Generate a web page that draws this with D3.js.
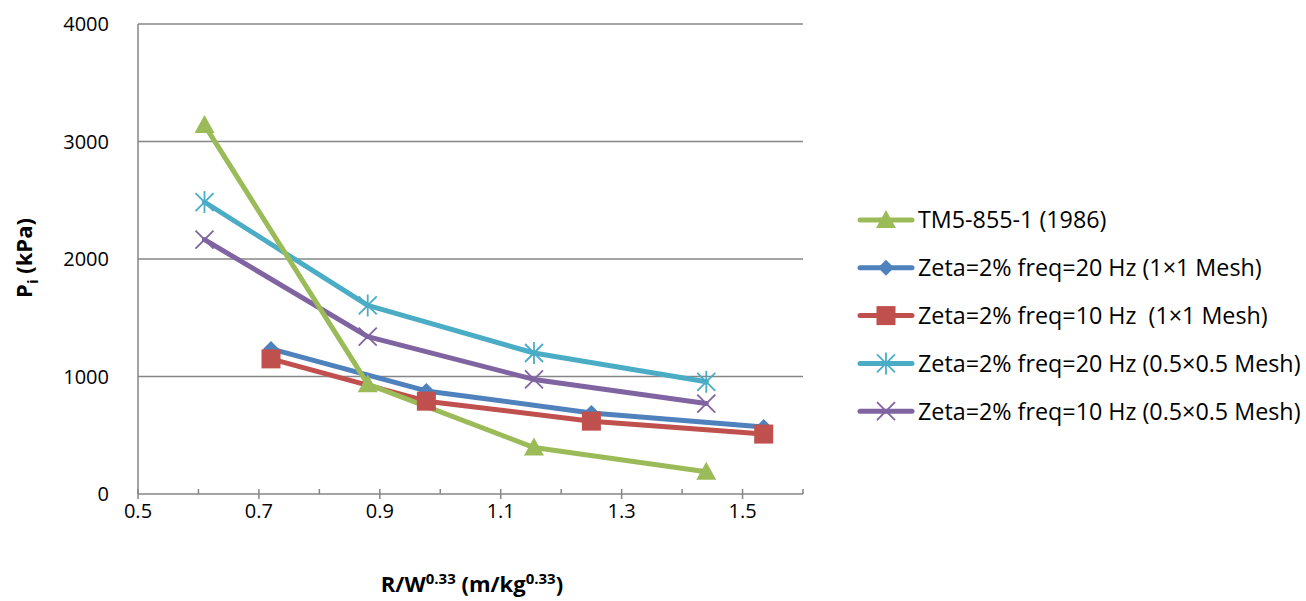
<!DOCTYPE html>
<html><head><meta charset="utf-8">
<script src="https://cdn.jsdelivr.net/npm/d3@7/dist/d3.min.js"></script>
<style>body{margin:0;background:#fff;} text{font-family:"Open Sans","Liberation Sans",sans-serif;}</style>
</head><body>
<svg id="c" width="1306" height="601"></svg>
<script>
const xTicks = [0.5, 0.7, 0.9, 1.1, 1.3, 1.5];
const yTicks = [0, 1000, 2000, 3000, 4000];
const seriesNames = ["TM5-855-1 (1986)", "Zeta=2% freq=20 Hz (1×1 Mesh)", "Zeta=2% freq=10 Hz  (1×1 Mesh)", "Zeta=2% freq=20 Hz (0.5×0.5 Mesh)", "Zeta=2% freq=10 Hz (0.5×0.5 Mesh)"];
const xTM5 = [0.61, 0.88, 1.155, 1.44];
const yTM5 = [3140, 935, 395, 190];
const x1x1 = [0.72, 0.977, 1.25, 1.535];
const y20_1x1 = [1235, 877, 690, 570];
const y10_1x1 = [1150, 790, 620, 510];
const xHalf = [0.61, 0.88, 1.155, 1.44];
const y20_half = [2485, 1605, 1200, 955];
const y10_half = [2165, 1340, 975, 770];

const colors = ["#9BBB59", "#4F81BD", "#C0504D", "#4BACC6", "#8064A2"];
const markers = ["triangle", "diamond", "square", "star", "x"];
const series = [
  {xs: xTM5, ys: yTM5},
  {xs: x1x1, ys: y20_1x1},
  {xs: x1x1, ys: y10_1x1},
  {xs: xHalf, ys: y20_half},
  {xs: xHalf, ys: y10_half}
].map((s, i) => ({name: seriesNames[i], color: colors[i], marker: markers[i], pts: s.xs.map((x, j) => [x, s.ys[j]])}));

const svg = d3.select("#c");
const L = 138, R = 803, T = 24, B = 494;
const x = d3.scaleLinear().domain([0.5, 1.6]).range([L, R]);
const y = d3.scaleLinear().domain([0, 4000]).range([B, T]);
const grey = "#868686";

svg.append("g").selectAll("line").data(yTicks.filter(d => d > 0)).join("line")
  .attr("x1", L).attr("x2", R).attr("y1", d => y(d)).attr("y2", d => y(d))
  .attr("stroke", grey).attr("stroke-width", 1.5);

svg.append("line").attr("x1", L).attr("x2", L).attr("y1", T).attr("y2", B).attr("stroke", grey).attr("stroke-width", 1.5);
svg.append("g").selectAll("text").data(yTicks).join("text")
  .attr("x", 109).attr("y", d => y(d)).attr("dy", "0.36em").attr("text-anchor", "end")
  .attr("font-size", 20).attr("fill", "#000").text(d => d);

svg.append("line").attr("x1", L).attr("x2", R).attr("y1", B).attr("y2", B).attr("stroke", grey).attr("stroke-width", 1.5);
const allTicks = d3.range(0, 12).map(i => +(0.5 + i * 0.1).toFixed(1));
svg.append("g").selectAll("line").data(allTicks).join("line")
  .attr("x1", d => x(d)).attr("x2", d => x(d))
  .attr("y1", B - 5).attr("y2", (d, i) => i % 2 === 0 ? B + 5 : B)
  .attr("stroke", grey).attr("stroke-width", 1.5);
svg.append("g").selectAll("text").data(xTicks).join("text")
  .attr("x", d => x(d)).attr("y", 518).attr("text-anchor", "middle")
  .attr("font-size", 20).attr("fill", "#000").text(d => d.toFixed(1));

const xt = svg.append("text").attr("x", 472).attr("y", 592).attr("text-anchor", "middle")
  .attr("font-size", 22).attr("font-weight", "bold");
xt.append("tspan").text("R/W");
xt.append("tspan").attr("font-size", 15).attr("dy", -8).text("0.33");
xt.append("tspan").attr("dy", 8).text(" (m/kg");
xt.append("tspan").attr("font-size", 15).attr("dy", -8).text("0.33");
xt.append("tspan").attr("dy", 8).text(")");

const yt = svg.append("text").attr("transform", "translate(32,258) rotate(-90)").attr("text-anchor", "middle")
  .attr("font-size", 22).attr("font-weight", "bold");
yt.append("tspan").text("P");
yt.append("tspan").attr("font-size", 15).attr("dy", 6).text("i");
yt.append("tspan").attr("dy", -6).text(" (kPa)");

function drawMarker(g, type, color) {
  if (type === "triangle") g.append("path").attr("d", "M0,-10L10,8L-10,8Z").attr("fill", color);
  else if (type === "diamond") g.append("path").attr("d", "M0,-8L8,0L0,8L-8,0Z").attr("fill", color);
  else if (type === "square") g.append("rect").attr("x", -9.5).attr("y", -9.5).attr("width", 19).attr("height", 19).attr("fill", color);
  else if (type === "star") {
    g.append("path").attr("d", "M-9,-9L9,9M-9,9L9,-9M0,-11L0,11").attr("stroke", color).attr("stroke-width", 1.8).attr("fill", "none");
  } else if (type === "x") {
    g.append("path").attr("d", "M-9,-9L9,9M-9,9L9,-9").attr("stroke", color).attr("stroke-width", 1.8).attr("fill", "none");
  }
}

const line = d3.line().x(d => x(d[0])).y(d => y(d[1]));
const order = [3, 4, 1, 2, 0];
order.forEach(i => {
  const s = series[i];
  svg.append("path").datum(s.pts).attr("d", line).attr("fill", "none")
    .attr("stroke", s.color).attr("stroke-width", 5).attr("stroke-linejoin", "round").attr("stroke-linecap", "round");
});
order.forEach(i => {
  const s = series[i];
  s.pts.forEach(p => {
    const g = svg.append("g").attr("transform", `translate(${x(p[0])},${y(p[1])})`);
    drawMarker(g, s.marker, s.color);
  });
});

const lg = svg.append("g");
series.forEach((s, i) => {
  const yy = 220 + i * 47.8;
  lg.append("line").attr("x1", 860).attr("x2", 912).attr("y1", yy).attr("y2", yy)
    .attr("stroke", s.color).attr("stroke-width", 5).attr("stroke-linecap", "round");
  const g = lg.append("g").attr("transform", `translate(886,${yy})`);
  drawMarker(g, s.marker, s.color);
  lg.append("text").attr("x", 918).attr("y", yy).attr("dy", "0.36em").attr("font-size", 23.3).attr("fill", "#000")
    .attr("xml:space", "preserve").style("white-space", "pre").text(s.name);
});
</script>
</body></html>
